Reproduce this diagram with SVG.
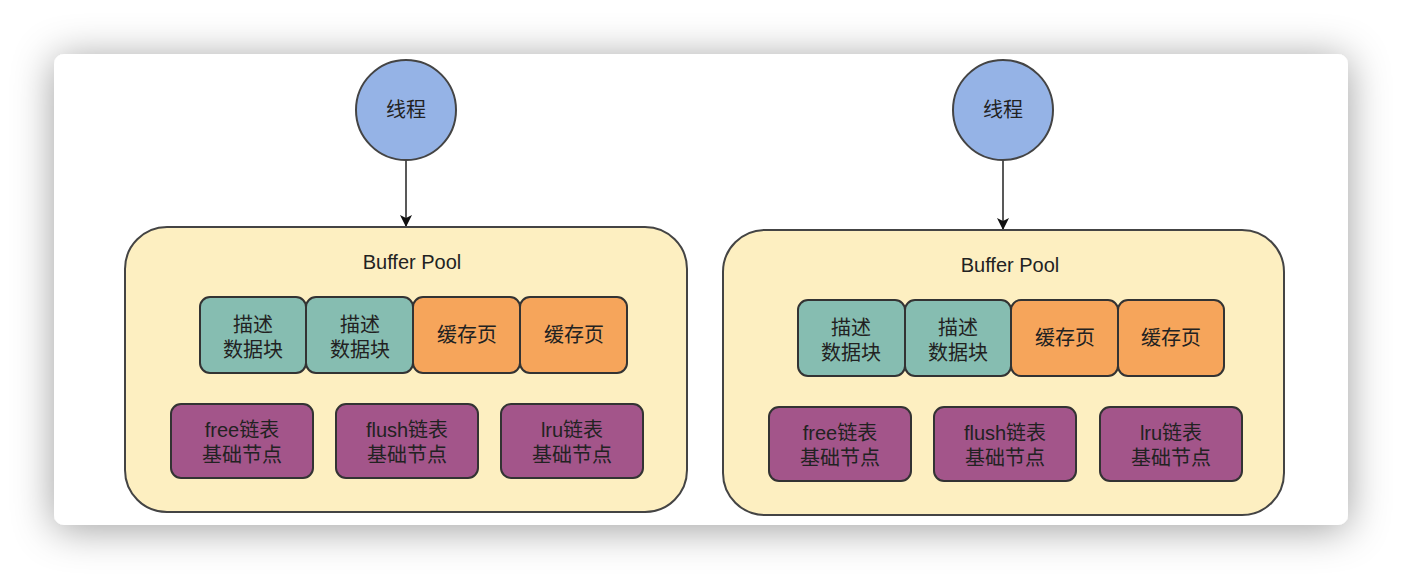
<svg xmlns="http://www.w3.org/2000/svg" width="1402" height="580" viewBox="0 0 1402 580">
<defs>
<filter id="sh" x="-10%" y="-25%" width="120%" height="150%">
<feDropShadow dx="0" dy="4" stdDeviation="20" flood-color="#000" flood-opacity="0.38"/>
</filter>
<marker id="ah" markerWidth="14" markerHeight="14" refX="12" refY="6" orient="auto" markerUnits="userSpaceOnUse">
<path d="M0,0 L12,6 L0,12 L3,6 Z" fill="#111"/>
</marker>
<style>
text{font-family:"Liberation Sans","Noto Sans CJK SC",sans-serif;fill:#222;text-anchor:middle}
.t{font-size:20px}
.pool{fill:#fdefc1;stroke:#444;stroke-width:2}
.th{fill:#95b3e6;stroke:#444;stroke-width:2}
.teal{fill:#86bdb1;stroke:#333;stroke-width:2}
.org{fill:#f6a55b;stroke:#333;stroke-width:2}
.pur{fill:#a3558a;stroke:#333;stroke-width:2}
.ln{stroke:#222;stroke-width:1.5;fill:none}
</style>
</defs>
<rect width="1402" height="580" fill="#ffffff"/>
<rect x="54" y="54" width="1294" height="471" rx="10" fill="#fff" filter="url(#sh)"/>
<g id="connectors">
<line class="ln" x1="406" y1="160" x2="406" y2="227" marker-end="url(#ah)"/>
<line class="ln" x1="1003" y1="160" x2="1003" y2="230" marker-end="url(#ah)"/>
</g>
<g id="left">
<g id="thread1"><circle class="th" cx="406" cy="110" r="50"/><text class="t" x="406" y="117">线程</text></g>
<g id="pool1"><rect class="pool" x="125" y="227" width="562" height="285" rx="42"/><text class="t" x="412" y="269">Buffer Pool</text></g>
<g id="l-d1"><rect class="teal" x="200" y="297" width="106" height="76" rx="10"/><text class="t" x="253" y="332">描述</text><text class="t" x="253" y="357">数据块</text></g>
<g id="l-d2"><rect class="teal" x="306" y="297" width="107" height="76" rx="10"/><text class="t" x="360" y="332">描述</text><text class="t" x="360" y="357">数据块</text></g>
<g id="l-c1"><rect class="org" x="413" y="297" width="107" height="76" rx="10"/><text class="t" x="467" y="342">缓存页</text></g>
<g id="l-c2"><rect class="org" x="520" y="297" width="107" height="76" rx="10"/><text class="t" x="574" y="342">缓存页</text></g>
<g id="l-free"><rect class="pur" x="171" y="404" width="142" height="74" rx="10"/><text class="t" x="242" y="437">free链表</text><text class="t" x="242" y="462">基础节点</text></g>
<g id="l-flush"><rect class="pur" x="336" y="404" width="142" height="74" rx="10"/><text class="t" x="407" y="437">flush链表</text><text class="t" x="407" y="462">基础节点</text></g>
<g id="l-lru"><rect class="pur" x="501" y="404" width="142" height="74" rx="10"/><text class="t" x="572" y="437">lru链表</text><text class="t" x="572" y="462">基础节点</text></g>
</g>
<g id="right">
<g id="thread2"><circle class="th" cx="1003" cy="110" r="50"/><text class="t" x="1003" y="117">线程</text></g>
<g id="pool2"><rect class="pool" x="723" y="230" width="561" height="285" rx="42"/><text class="t" x="1010" y="272">Buffer Pool</text></g>
<g id="r-d1"><rect class="teal" x="798" y="300" width="107" height="76" rx="10"/><text class="t" x="851" y="335">描述</text><text class="t" x="851" y="360">数据块</text></g>
<g id="r-d2"><rect class="teal" x="905" y="300" width="106" height="76" rx="10"/><text class="t" x="958" y="335">描述</text><text class="t" x="958" y="360">数据块</text></g>
<g id="r-c1"><rect class="org" x="1011" y="300" width="107" height="76" rx="10"/><text class="t" x="1065" y="345">缓存页</text></g>
<g id="r-c2"><rect class="org" x="1118" y="300" width="106" height="76" rx="10"/><text class="t" x="1171" y="345">缓存页</text></g>
<g id="r-free"><rect class="pur" x="769" y="407" width="142" height="74" rx="10"/><text class="t" x="840" y="440">free链表</text><text class="t" x="840" y="465">基础节点</text></g>
<g id="r-flush"><rect class="pur" x="934" y="407" width="142" height="74" rx="10"/><text class="t" x="1005" y="440">flush链表</text><text class="t" x="1005" y="465">基础节点</text></g>
<g id="r-lru"><rect class="pur" x="1100" y="407" width="142" height="74" rx="10"/><text class="t" x="1171" y="440">lru链表</text><text class="t" x="1171" y="465">基础节点</text></g>
</g>
</svg>
